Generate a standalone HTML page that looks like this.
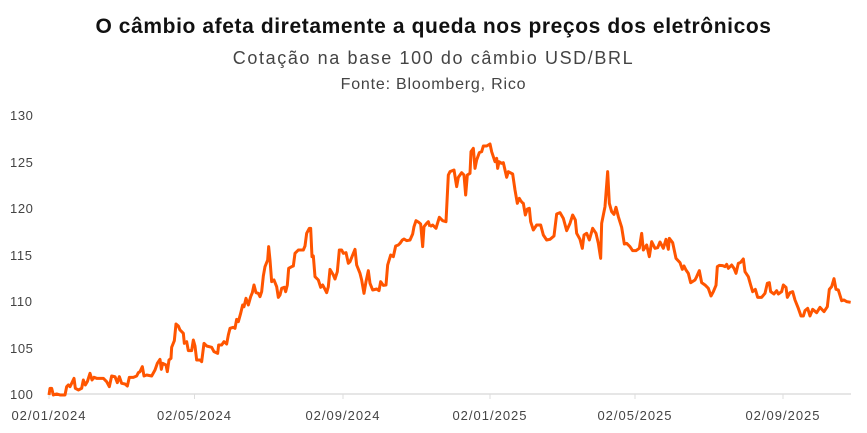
<!DOCTYPE html>
<html><head><meta charset="utf-8"><style>
body{margin:0;width:867px;height:433px;background:#fff;font-family:"Liberation Sans",sans-serif;overflow:hidden}
.t{position:absolute;width:867px;text-align:center;left:0}
</style></head><body>
<div class="t" style="top:15px;font-size:21px;font-weight:bold;color:#111;letter-spacing:0.6px">O câmbio afeta diretamente a queda nos preços dos eletrônicos</div>
<div class="t" style="top:48px;font-size:18px;color:#444;letter-spacing:1.6px">Cotação na base 100 do câmbio USD/BRL</div>
<div class="t" style="top:76px;font-size:16px;color:#444;letter-spacing:0.8px">Fonte: Bloomberg, Rico</div>
<svg width="867" height="433" style="position:absolute;left:0;top:0" font-family="Liberation Sans, sans-serif" font-size="13" fill="#444">
<g letter-spacing="0.6">
<text x="10" y="120">130</text><text x="10" y="167">125</text><text x="10" y="213">120</text><text x="10" y="260">115</text><text x="10" y="306">110</text><text x="10" y="353">105</text><text x="10" y="399">100</text>
</g>
<line x1="48" y1="394" x2="851" y2="394" stroke="#ddd" stroke-width="1.5"/>
<g stroke="#ddd"><line x1="49" y1="394" x2="49" y2="399"/><line x1="194.5" y1="394" x2="194.5" y2="399"/><line x1="343" y1="394" x2="343" y2="399"/><line x1="490" y1="394" x2="490" y2="399"/><line x1="635" y1="394" x2="635" y2="399"/><line x1="783" y1="394" x2="783" y2="399"/></g>
<g text-anchor="middle" letter-spacing="1"><text x="49" y="420">02/01/2024</text><text x="194.5" y="420">02/05/2024</text><text x="343" y="420">02/09/2024</text><text x="490" y="420">02/01/2025</text><text x="635" y="420">02/05/2025</text><text x="783" y="420">02/09/2025</text></g>
<g transform="translate(0,100) scale(0.33333)">
<polyline fill="none" stroke="#ff5500" stroke-width="3" vector-effect="non-scaling-stroke" stroke-linejoin="round" points="147,885 150,865 155,865 160,885 170,882 180,885 195,885 200,860 205,855 210,860 215,850 222,835 226,865 235,870 245,865 250,840 256,855 262,845 270,820 276,840 282,832 290,835 310,835 320,845 328,860 335,828 345,830 352,848 358,830 365,850 375,852 382,858 388,832 400,832 410,828 415,818 420,815 427,800 432,828 440,825 455,828 465,810 472,790 480,778 484,808 488,790 498,795 502,815 507,780 513,775 515,742 523,722 528,672 535,678 540,690 550,700 553,730 560,725 565,752 575,752 580,720 585,738 590,780 600,780 605,785 612,730 620,738 635,742 642,755 653,760 656,735 665,735 672,725 680,732 685,705 690,685 700,682 705,685 710,658 715,665 722,640 728,615 732,620 738,595 745,615 752,590 757,578 762,555 768,578 775,580 780,590 785,575 790,528 795,500 803,480 806,440 810,480 815,545 822,540 830,560 835,592 840,585 845,565 853,562 857,575 862,555 866,505 875,500 880,498 885,460 895,450 910,450 915,438 920,400 928,385 932,385 936,470 940,468 945,530 955,540 962,562 968,555 975,568 980,578 985,560 990,508 1000,525 1005,537 1012,515 1018,450 1025,450 1030,460 1038,458 1045,490 1050,485 1058,465 1065,448 1070,495 1080,520 1085,540 1092,580 1098,545 1105,512 1110,550 1118,570 1130,567 1137,572 1142,545 1150,556 1158,555 1163,495 1172,465 1180,470 1187,438 1195,435 1200,430 1207,420 1212,417 1220,422 1230,420 1238,402 1242,380 1248,362 1255,366 1262,372 1268,440 1272,380 1280,370 1285,365 1290,380"/>
</g>
<g transform="translate(430,100) scale(0.33333)">
<polyline fill="none" stroke="#ff5500" stroke-width="3" vector-effect="non-scaling-stroke" stroke-linejoin="round" points="0,380 8,375 18,385 28,352 38,362 48,365 55,225 60,215 72,210 80,260 85,232 95,218 102,225 107,285 112,225 120,220 123,155 130,145 135,205 140,180 148,158 155,155 160,138 170,138 180,132 185,155 195,185 200,175 203,205 207,185 215,190 220,188 225,210 230,232 235,215 248,222 255,270 262,310 268,295 272,302 277,308 280,310 286,345 292,327 298,325 302,365 310,390 320,375 332,375 340,405 350,420 360,418 372,408 380,342 390,338 400,355 410,392 420,370 428,345 436,360 440,400 450,418 457,445 462,405 470,400 478,420 488,385 498,400 505,430 512,475 515,370 525,320 533,215 538,310 545,335 552,343 558,322 565,350 575,382 583,432 590,430 600,440 608,452 618,452 628,445 635,400 640,450 650,435 658,470 665,425 675,445 683,443 690,426 700,445 708,418 715,448 718,415 728,428 738,475 750,488 757,508 762,498 768,510 775,520 782,548 795,540 800,530 808,512 815,548 825,555 835,565 843,588 850,575 858,556 862,500 868,496 878,497 885,500 890,493 895,505 905,495 912,505 918,520 925,490 932,487 940,477 945,515 955,530 962,555 968,575 976,568 983,592 995,592 1005,580 1012,550 1018,548 1022,575 1032,582 1040,572 1045,582 1055,575 1060,555 1068,562 1072,592 1080,578 1088,575 1095,600 1105,625 1113,648 1120,648 1125,632 1133,625 1140,648 1148,628 1160,638 1170,622 1182,635 1192,620 1198,568 1205,560 1212,536 1218,568 1225,570 1235,602 1242,600 1250,605 1262,607"/>
</g>
</svg>
</body></html>
